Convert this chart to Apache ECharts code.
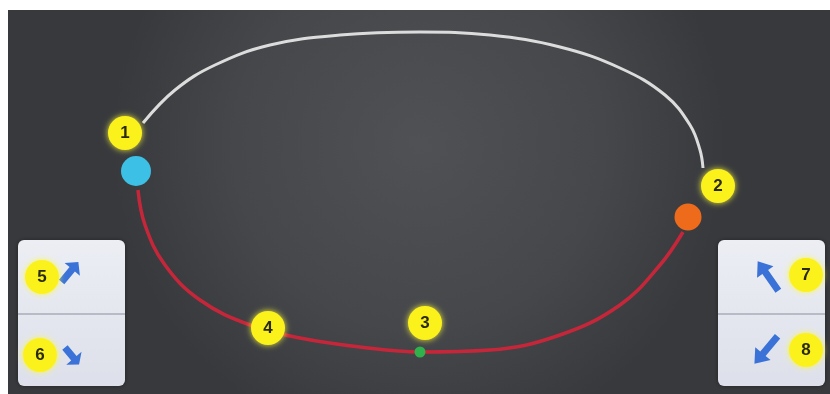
<!DOCTYPE html>
<html style="height: 100%">
<head>
	<meta charset="utf-8">
</head>
<body style="height: 100%; margin: 0; background: #fff">
<div id="container" style="width: 830px; height: 394px"></div>
<script src="https://cdn.jsdelivr.net/npm/echarts@6/dist/echarts.min.js"></script>
<script type="text/javascript">
	// white return path, points along the top arc
	var whitePath = [[143,123],[175,90],[215,65],[270,45],[340,35],[420,32],[490,35],[560,47],[620,68],[665,95],[690,125],[700,150],[703,168]];
	// red path along the bottom
	var redPath = [[138,190],[145,225],[165,265],[200,300],[250,325],[300,338],[360,347],[420,352],[490,350],[560,335],[620,305],[660,265],[683,232]];
	// balls on the track
	var balls = [
		{name: 'start', x: 136, y: 171, size: 30, color: '#3dc0e6'},
		{name: 'end', x: 688, y: 217, size: 27, color: '#ee6b1c'},
		{name: 'mid', x: 420, y: 352, size: 11, color: '#2fb24c'}
	];
	// numbered badges
	var badges = [
		{n: '1', x: 125, y: 133},
		{n: '2', x: 718, y: 186},
		{n: '3', x: 425, y: 323},
		{n: '4', x: 268, y: 328},
		{n: '5', x: 42, y: 277},
		{n: '6', x: 40, y: 355},
		{n: '7', x: 806, y: 275},
		{n: '8', x: 806, y: 350}
	];
	// arrow buttons: position and rotation
	var arrows = [
		{x: 70, y: 272, rot: -40, len: 26},
		{x: 72, y: 356, rot: -140, len: 22},
		{x: 768, y: 276, rot: 35, len: 36},
		{x: 766, y: 350, rot: 140, len: 36}
	];

	var arrowPath = 'path://M10,0 L20,11 L13.5,11 L13.5,30 L6.5,30 L6.5,11 L0,11 Z';

	var dom = document.getElementById("container");
	var myChart = echarts.init(dom);

	function panel(x) {
		return {
			type: 'group',
			z: 1,
			children: [
				{
					type: 'rect',
					shape: {x: x, y: 240, width: 107, height: 146, r: 6},
					style: {
						fill: new echarts.graphic.LinearGradient(0, 0, 0, 1, [
							{offset: 0, color: '#eceef4'},
							{offset: 1, color: '#dde0ea'}
						]),
						shadowBlur: 4,
						shadowColor: 'rgba(0,0,0,0.4)'
					}
				},
				{
					type: 'line',
					shape: {x1: x, y1: 314, x2: x + 107, y2: 314},
					style: {stroke: '#a9adb8', lineWidth: 1.5}
				}
			]
		};
	}

	var option = {
		animation: false,
		graphic: [
			{
				type: 'rect',
				z: -10,
				shape: {x: 8, y: 10, width: 822, height: 384},
				style: {
					fill: new echarts.graphic.RadialGradient(0.5, 0.35, 0.8, [
						{offset: 0, color: '#4f5154'},
						{offset: 0.6, color: '#45474a'},
						{offset: 1, color: '#37393c'}
					])
				}
			},
			panel(18),
			panel(718)
		],
		grid: {left: 0, right: 0, top: 0, bottom: 0},
		xAxis: {type: 'value', min: 0, max: 830, show: false},
		yAxis: {type: 'value', min: 0, max: 394, inverse: true, show: false},
		series: [
			{
				type: 'line',
				z: 3,
				smooth: 0.4,
				symbol: 'none',
				data: whitePath,
				lineStyle: {color: '#dcdcdc', width: 3}
			},
			{
				type: 'line',
				z: 3,
				smooth: 0.4,
				symbol: 'none',
				data: redPath,
				lineStyle: {color: '#c6263a', width: 3.5}
			},
			{
				type: 'scatter',
				z: 4,
				data: balls.map(function (b) {
					return {
						value: [b.x, b.y],
						symbolSize: b.size,
						itemStyle: {color: b.color, opacity: 1}
					};
				})
			},
			{
				type: 'scatter',
				z: 5,
				data: arrows.map(function (a) {
					return {value: [a.x, a.y], symbolRotate: a.rot, symbolSize: [20, a.len]};
				}),
				symbol: arrowPath,
				itemStyle: {color: '#3a72d8', opacity: 1}
			},
			{
				type: 'scatter',
				z: 6,
				symbolSize: 34,
				data: badges.map(function (b) {
					return {name: b.n, value: [b.x, b.y]};
				}),
				itemStyle: {
					color: '#fbf21c',
					opacity: 1,
					shadowBlur: 6,
					shadowColor: 'rgba(255,250,60,0.9)'
				},
				label: {
					show: true,
					position: 'inside',
					formatter: '{b}',
					color: '#2a2a10',
					fontSize: 17,
					fontWeight: 'bold',
					fontFamily: 'Liberation Sans'
				}
			}
		]
	};

	myChart.setOption(option, true);
</script>
</body>
</html>
